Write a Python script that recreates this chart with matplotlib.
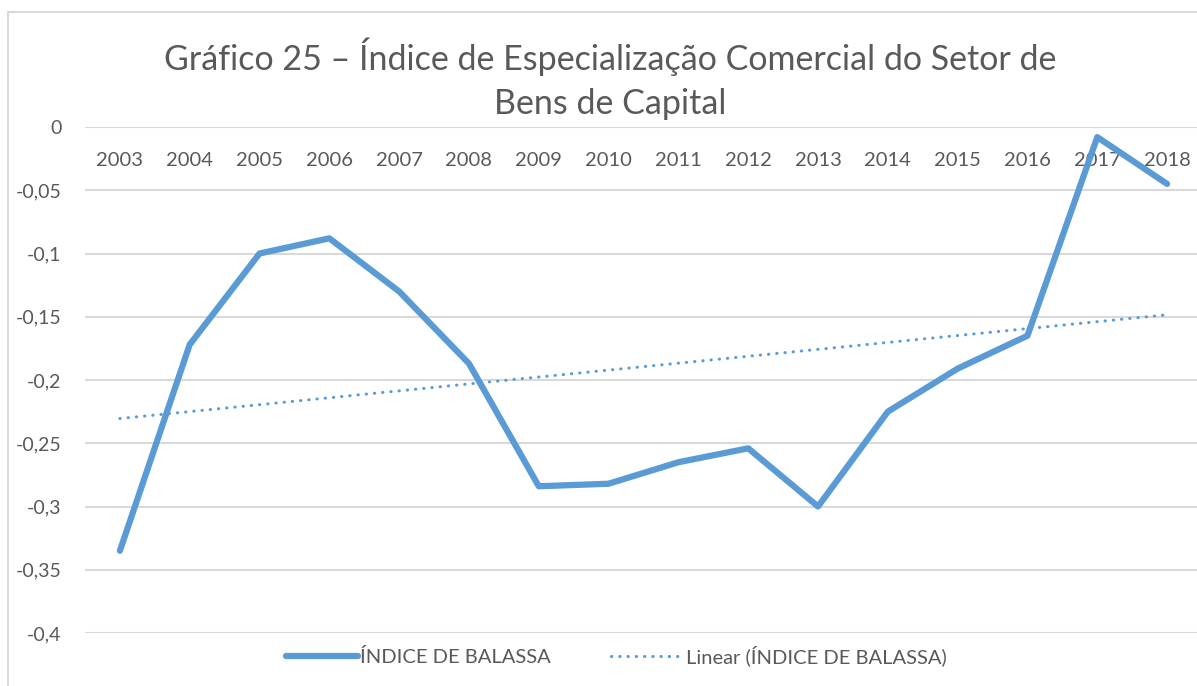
import matplotlib
matplotlib.use("Agg")
import matplotlib.pyplot as plt
import numpy as np
from matplotlib.lines import Line2D
from matplotlib.patches import Rectangle

years = ["2003", "2004", "2005", "2006", "2007", "2008", "2009", "2010",
         "2011", "2012", "2013", "2014", "2015", "2016", "2017", "2018"]
balassa = [-0.335, -0.172, -0.100, -0.088, -0.130, -0.187, -0.284, -0.282,
           -0.265, -0.254, -0.300, -0.225, -0.191, -0.165, -0.008, -0.045]
y_ticks = [0, -0.05, -0.1, -0.15, -0.2, -0.25, -0.3, -0.35, -0.4]
y_tick_labels = ["0", "-0,05", "-0,1", "-0,15", "-0,2", "-0,25", "-0,3", "-0,35", "-0,4"]
title = "Gráfico 25 – Índice de Especialização Comercial do Setor de\nBens de Capital"
series_label = "ÍNDICE DE BALASSA"
trend_label = "Linear (ÍNDICE DE BALASSA)"

FONT = "Lato"
TXT = "#595959"
BLUE = "#5B9BD5"
GRID = "#D9D9D9"

W, H = 1197, 686
fig = plt.figure(figsize=(W / 100, H / 100), dpi=100)
plt.rcParams['font.family'] = [FONT, 'DejaVu Sans']

# outer chart border (left and top visible)
fig.patches.append(Rectangle((8 / W, -0.1), 1.2, (H - 12) / H + 0.1, transform=fig.transFigure,
                             fill=False, edgecolor=GRID, linewidth=1.5))

left, right = 85 / W, 1202 / W
top, bottom = (H - 127) / H, (H - 633) / H
ax = fig.add_axes([left, bottom, right - left, top - bottom])

x = np.arange(len(years))
ax.plot(x, balassa, color=BLUE, linewidth=4.5, solid_joinstyle='round',
        solid_capstyle='round', zorder=3)
coef = np.polyfit(x, balassa, 1)
trend = np.polyval(coef, x)
ax.plot(x, trend, color=BLUE, linewidth=2.2, linestyle=(0, (0.1, 2.6)),
        dash_capstyle='round', zorder=2)

ax.set_xlim(-0.5, len(years) - 0.5)
ax.set_ylim(-0.4, 0)
ax.set_yticks(y_ticks)
ax.set_yticklabels(y_tick_labels)
ax.yaxis.grid(True, color=GRID, linewidth=1.5)
ax.set_axisbelow(True)
for s in ax.spines.values():
    s.set_visible(False)
ax.tick_params(axis='y', length=0, pad=17, labelsize=14, labelcolor=TXT)
ax.set_xticks(x)
ax.set_xticklabels(years)
ax.tick_params(axis='x', length=0, bottom=False, labelbottom=False, top=False,
               labeltop=True, pad=-30, labelsize=14.5, labelcolor=TXT)
for t in ax.get_yticklabels() + ax.get_xticklabels():
    t.set_fontfamily(FONT)

fig.text(610 / W, (H - 79) / H, title, ha='center', va='center', fontsize=24.5,
         color=TXT, family=FONT, linespacing=1.45)

handles = [Line2D([], [], color=BLUE, linewidth=4.5, solid_capstyle='round'),
           Line2D([], [], color=BLUE, linewidth=2.2, linestyle=(0, (0.1, 2.6)),
                  dash_capstyle='round')]
fig.legend(handles, [series_label, trend_label], loc='center',
           bbox_to_anchor=(616 / W, (H - 656) / H), ncol=2, frameon=False,
           prop={'family': FONT, 'size': 14.5}, labelcolor=TXT, handlelength=3.6,
           handletextpad=0.1, columnspacing=3.0)

fig.savefig("out.png", dpi=100)
